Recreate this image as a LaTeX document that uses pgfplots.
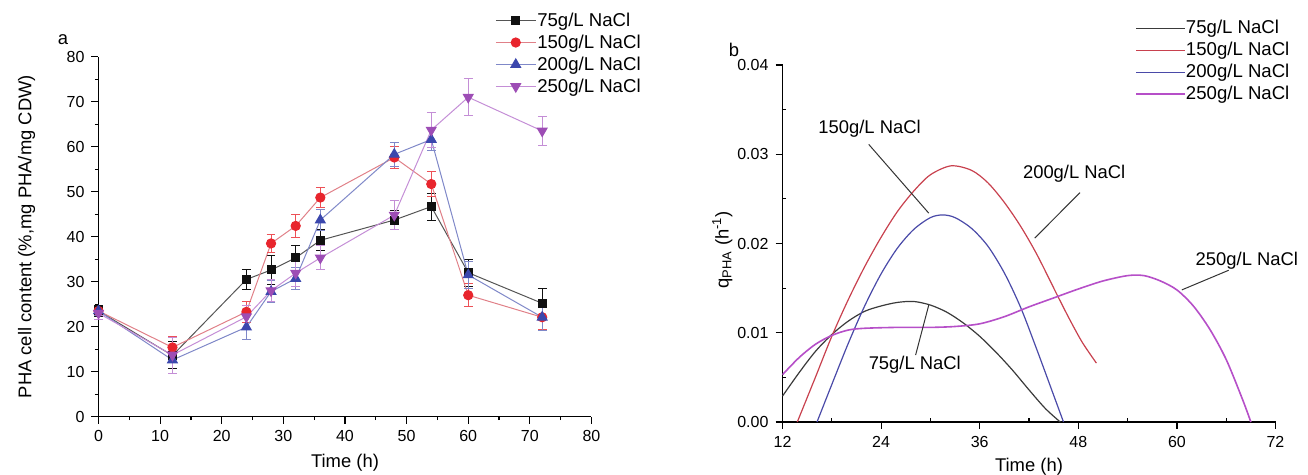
\documentclass[border=0pt]{standalone}
\usepackage{fontspec}
\setmainfont{Liberation Sans}
\usepackage{pgfplots}
\pgfplotsset{compat=1.18}

\definecolor{mk75}{HTML}{111111}
\definecolor{ln75}{HTML}{555555}
\definecolor{mk150}{HTML}{E8252D}
\definecolor{ln150}{HTML}{E08088}
\definecolor{mk200}{HTML}{3B47AD}
\definecolor{ln200}{HTML}{7F88C8}
\definecolor{mk250}{HTML}{9D4DB5}
\definecolor{ln250}{HTML}{C48ED6}
\definecolor{q75}{HTML}{3A3A3A}
\definecolor{q150}{HTML}{C8414E}
\definecolor{q200}{HTML}{4A4AA8}
\definecolor{q250}{HTML}{B64FC8}

\newcommand{\labfont}{\fontsize{9.2pt}{10pt}\selectfont}
\newcommand{\tickfont}{\fontsize{8pt}{9pt}\selectfont}

\pgfplotsset{
  panel/.style={
    scale only axis, anchor=south west,
    axis lines*=left,
    axis line style={black, line width=0.6pt},
    tick align=outside,
    major tick length=3.5pt,
    tick style={black, line width=0.6pt},
    tick label style={font=\tickfont},
    /pgf/number format/assume math mode=true,
    label style={font=\labfont},
    legend cell align=left,
    clip=false,
  },
}

\begin{document}
\begin{tikzpicture}
\useasboundingbox (0,0) rectangle (654pt,237.5pt);

% panel a
\begin{axis}[panel,
  at={(49.25pt,29.15pt)}, width=246.5pt, height=180pt,
  xmin=0, xmax=80, ymin=0, ymax=80,
  xtick={0,10,...,80}, ytick={0,10,...,80},
  minor x tick num=1, minor y tick num=1,
  minor tick length=1.75pt,
  xlabel={Time (h)},
  ylabel={PHA cell content (\%,mg PHA/mg CDW)},
  xlabel style={at={(axis description cs:0.5,-0.128)}, anchor=center},
  ylabel style={at={(axis description cs:-0.146,0.5)}, anchor=center},
  legend style={at={(axis description cs:0.804,1.128)}, anchor=north west,
    draw=none, fill=none, font=\fontsize{9.3pt}{10pt}\selectfont,
    row sep=1.5pt, inner sep=0pt,
    nodes={inner sep=0.5pt, text height=7pt, text depth=1.5pt}},
  legend image code/.code={\draw[mark repeat=2,mark phase=2]
    plot coordinates {(0pt,0pt)(10pt,0pt)(20pt,0pt)};},
  error bars/y dir=both, error bars/y explicit,
  error bars/error mark=-,
]
\addplot[ln75, line width=0.5pt, mark=square*, mark size=2pt,
  mark options={solid, fill=mk75, draw=mk75},
  error bars/error bar style={mk75, line width=0.5pt},
  error bars/error mark options={rotate=90, mk75, mark size=2.2pt, line width=0.5pt}]
  coordinates {
  (0,23.5) +- (0,1.2)
  (12,13.6) +- (0,3.0)
  (24,30.5) +- (0,2.3)
  (28,32.6) +- (0,3.2)
  (32,35.3) +- (0,2.8)
  (36,39.2) +- (0,2.3)
  (48,43.7) +- (0,2.2)
  (54,46.7) +- (0,3.0)
  (60,32.0) +- (0,3.0)
  (72,25.2) +- (0,3.3)
};
\addlegendentry{75g/L NaCl}
\addplot[ln150, line width=0.5pt, mark=*, mark size=2.3pt,
  mark options={solid, fill=mk150, draw=mk150},
  error bars/error bar style={mk150!80, line width=0.5pt},
  error bars/error mark options={rotate=90, mk150!80, mark size=2.2pt, line width=0.5pt}]
  coordinates {
  (0,23.5) +- (0,1.0)
  (12,15.4) +- (0,2.5)
  (24,23.3) +- (0,2.3)
  (28,38.5) +- (0,2.0)
  (32,42.4) +- (0,2.5)
  (36,48.7) +- (0,2.3)
  (48,57.6) +- (0,2.5)
  (54,51.7) +- (0,2.7)
  (60,27.0) +- (0,2.5)
  (72,22.1) +- (0,2.8)
};
\addlegendentry{150g/L NaCl}
\addplot[ln200, line width=0.5pt, mark=triangle*, mark size=2.8pt,
  mark options={solid, fill=mk200, draw=mk200},
  error bars/error bar style={ln200, line width=0.5pt},
  error bars/error mark options={rotate=90, ln200, mark size=2.2pt, line width=0.5pt}]
  coordinates {
  (0,23.5) +- (0,1.0)
  (12,12.6) +- (0,3.0)
  (24,19.9) +- (0,2.7)
  (28,27.8) +- (0,2.5)
  (32,30.7) +- (0,2.4)
  (36,43.7) +- (0,2.3)
  (48,58.3) +- (0,2.7)
  (54,61.6) +- (0,2.5)
  (60,31.5) +- (0,3.0)
  (72,22.1) +- (0,3.0)
};
\addlegendentry{200g/L NaCl}
\addplot[ln250, line width=0.5pt, mark=triangle*, mark size=2.8pt,
  mark options={solid, rotate=180, fill=mk250, draw=mk250},
  error bars/error bar style={ln250, line width=0.5pt},
  error bars/error mark options={rotate=90, ln250, mark size=2.2pt, line width=0.5pt}]
  coordinates {
  (0,23.0) +- (0,1.5)
  (12,13.7) +- (0,4.0)
  (24,22.2) +- (0,2.5)
  (28,28.0) +- (0,2.5)
  (32,31.9) +- (0,3.0)
  (36,35.3) +- (0,2.7)
  (48,44.8) +- (0,3.3)
  (54,63.7) +- (0,3.9)
  (60,71.0) +- (0,4.1)
  (72,63.5) +- (0,3.2)
};
\addlegendentry{250g/L NaCl}
\end{axis}

% panel b
\begin{axis}[panel,
  at={(391.25pt,26.5pt)}, width=246.5pt, height=178.5pt,
  xmin=12, xmax=72, ymin=0, ymax=0.04,
  xtick={12,24,...,72}, ytick={0,0.01,0.02,0.03,0.04},
  minor x tick num=1, minor y tick num=1,
  minor tick length=-1.75pt,
  scaled y ticks=false,
  yticklabel style={/pgf/number format/fixed, /pgf/number format/fixed zerofill,
    /pgf/number format/precision=2},
  xlabel={Time (h)},
  ylabel={q\textsubscript{PHA} (h\textsuperscript{-1})},
  xlabel style={at={(axis description cs:0.5,-0.125)}, anchor=center},
  ylabel style={at={(axis description cs:-0.122,0.482)}, anchor=center},
  legend style={at={(axis description cs:0.715,1.131)}, anchor=north west,
    draw=none, fill=none, font=\fontsize{9.3pt}{10pt}\selectfont,
    row sep=1.5pt, inner sep=0pt,
    nodes={inner sep=0.5pt, text height=7pt, text depth=1.5pt}},
  legend image code/.code={\draw plot coordinates {(0pt,0pt)(24pt,0pt)};},
]
\addplot[q75, line width=0.6pt, smooth] coordinates {
  (12,0.0029) (14,0.0055) (16,0.0079) (18,0.0098) (20,0.0113) (22,0.0124)
  (24,0.0130) (26,0.0134) (28,0.0135) (30,0.0131) (32,0.0123) (34,0.0111)
  (36,0.0096) (38,0.0078) (40,0.0058) (42,0.0036) (44,0.0015) (45.8,0.0)
};
\addlegendentry{75g/L NaCl}
\addplot[q150, line width=0.6pt, smooth] coordinates {
  (13.8,0.0) (16,0.0050) (18,0.0096) (20,0.0137) (22,0.0174) (24,0.0207)
  (26,0.0236) (28,0.0259) (30,0.0277) (32.5,0.0287) (35,0.0282) (37,0.0268)
  (39,0.0246) (41,0.0219) (43,0.0187) (45.5,0.0141) (47,0.0114) (48.5,0.0089)
  (50.2,0.0066)
};
\addlegendentry{150g/L NaCl}
\addplot[q200, line width=0.6pt, smooth] coordinates {
  (16.2,0.0) (18,0.0042) (20,0.0088) (22,0.0130) (24,0.0166) (26,0.0195)
  (28,0.0216) (30,0.0229) (31.5,0.0232) (33,0.0229) (35,0.0217) (37,0.0197)
  (39,0.0167) (41,0.0128) (43,0.0080) (45,0.0030) (46.2,0.0)
};
\addlegendentry{200g/L NaCl}
\addplot[q250, line width=0.8pt, smooth] coordinates {
  (12,0.0053) (14,0.0072) (16,0.0087) (18,0.0097) (20,0.0103) (22,0.0105)
  (26,0.0106) (30,0.0106) (33,0.0107) (36,0.0110) (39,0.0118) (42,0.0129)
  (45,0.0139) (48,0.0149) (51,0.0158) (54,0.0164) (56,0.0164) (58,0.0158)
  (60,0.0148) (62,0.0130) (64,0.0104) (66,0.0070) (68,0.0025) (69,0.0)
};
\addlegendentry{250g/L NaCl}

\draw[gray!40!black, line width=0.5pt] (axis cs:22.5,0.0311) -- (axis cs:29.8,0.0234);
\draw[gray!40!black, line width=0.5pt] (axis cs:48.2,0.0257) -- (axis cs:42.7,0.0206);
\draw[gray!40!black, line width=0.5pt] (axis cs:66.3,0.0170) -- (axis cs:60.6,0.0148);
\draw[gray!40!black, line width=0.5pt] (axis cs:28.2,0.0075) -- (axis cs:29.8,0.0131);
\node[font=\labfont] at (axis cs:22.6,0.0329) {150g/L NaCl};
\node[font=\labfont] at (axis cs:47.5,0.0278) {200g/L NaCl};
\node[font=\labfont, anchor=east] at (axis cs:75.6,0.0181) {250g/L NaCl};
\node[font=\labfont] at (axis cs:28.1,0.0064) {75g/L NaCl};
\end{axis}

\node[font=\labfont] at (31.5pt,217.5pt) {a};
\node[font=\labfont] at (367pt,212.5pt) {b};
\end{tikzpicture}
\end{document}
